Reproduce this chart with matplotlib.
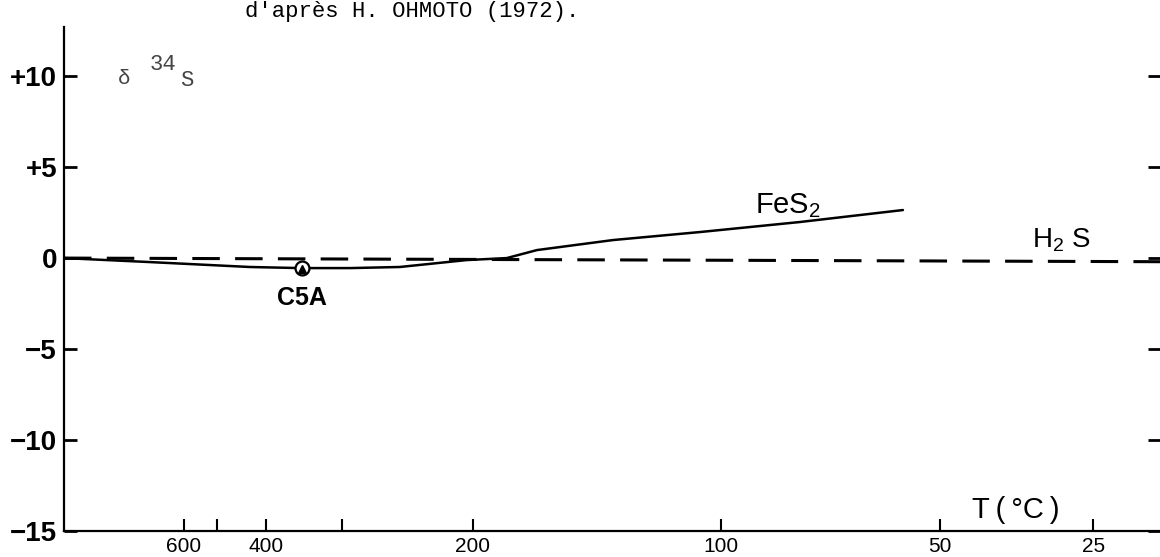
import matplotlib.pyplot as plt
import numpy as np

plt.rcParams['font.family'] = ['Liberation Sans', 'DejaVu Sans']
plt.rcParams['mathtext.fontset'] = 'custom'
plt.rcParams['mathtext.rm'] = 'Liberation Sans'
plt.rcParams['mathtext.it'] = 'Liberation Sans:italic'

# x axis is 10^6 / T^2 (T in kelvin), labelled in degrees C
temp_ticks_c = [600, 500, 400, 300, 200, 100, 50, 25]
temp_labels = ['600', '', '400', '', '200', '100', '50', '25']

# FeS2 curve (x in 10^6/T^2, y in permil)
fes2_x = [0.0, 0.94, 2.03, 2.58, 3.13, 3.67, 4.40, 4.84, 5.17, 6.00, 6.95, 8.04, 9.17]
fes2_y = [0.0, -0.22, -0.49, -0.55, -0.55, -0.49, -0.11, 0.0, 0.44, 0.99, 1.43, 1.98, 2.64]

# H2S reference line (dashed)
h2s_x = [0.0, 12.0]
h2s_y = [0.0, -0.2]

# sample C5A
c5a_x = 2.6
c5a_y = -0.55

y_ticks = [10, 5, 0, -5, -10, -15]
y_labels = ['+10', '+5', '0', '\u22125', '\u221210', '\u221215']


def inv_t2(t_c):
    t_k = np.asarray(t_c, dtype=float) + 273.15
    return 1e6 / t_k ** 2


fig = plt.figure(figsize=(11.6, 5.57), dpi=100)
ax = fig.add_axes([64 / 1160, 26 / 557, 1096 / 1160, 504 / 557])

ax.plot(fes2_x, fes2_y, color='black', lw=1.8, solid_capstyle='round')
ax.plot(h2s_x, h2s_y, color='black', lw=2.2, dashes=(9, 5))

ax.plot(c5a_x, c5a_y, marker='o', ms=10, mfc='white', mec='black', mew=1.6)
ax.plot(c5a_x, c5a_y - 0.05, marker='^', ms=6, color='black')
ax.annotate('C5A', (c5a_x, c5a_y), xytext=(0, -13), textcoords='offset points',
            ha='center', va='top', fontsize=18, fontweight='bold')

ax.text(7.55, 2.47, 'FeS$_2$', fontsize=21, va='baseline')
ax.text(10.58, 0.6, 'H$_2$ S', fontsize=20, va='baseline')
ax.text(9.93, -14.3, 'T\u2009(\u2009\u00b0C\u2009)', fontsize=21, va='baseline')

ax.set_xlim(0, 11.98)
ax.set_ylim(-15, 12.7)

ax.set_xticks(inv_t2(temp_ticks_c))
ax.set_xticklabels(temp_labels, fontsize=15)
ax.set_yticks(y_ticks)
ax.set_yticklabels(y_labels, fontsize=20, fontweight='bold')

ax.tick_params(axis='x', direction='in', length=9, width=1.5, pad=4)
ax.tick_params(axis='y', direction='in', length=9, width=2, pad=5, right=True)

for side in ['top', 'right']:
    ax.spines[side].set_visible(False)
for side in ['left', 'bottom']:
    ax.spines[side].set_linewidth(1.6)

fig.text(118 / 1160, 1 - 84 / 557, '\u03b4', family='Liberation Mono', fontsize=15, color='#444444')
fig.text(150 / 1160, 1 - 70 / 557, '34', family='Liberation Mono', fontsize=16, color='#444444')
fig.text(180 / 1160, 1 - 86 / 557, 'S', family='Liberation Mono', fontsize=16, color='#444444')

fig.text(245 / 1160, 1 - 1 / 557, "d'apr\u00e8s H. OHMOTO (1972).",
         family='Liberation Mono', fontsize=16, va='top')

fig.savefig('out.png', dpi=100, facecolor='white')
